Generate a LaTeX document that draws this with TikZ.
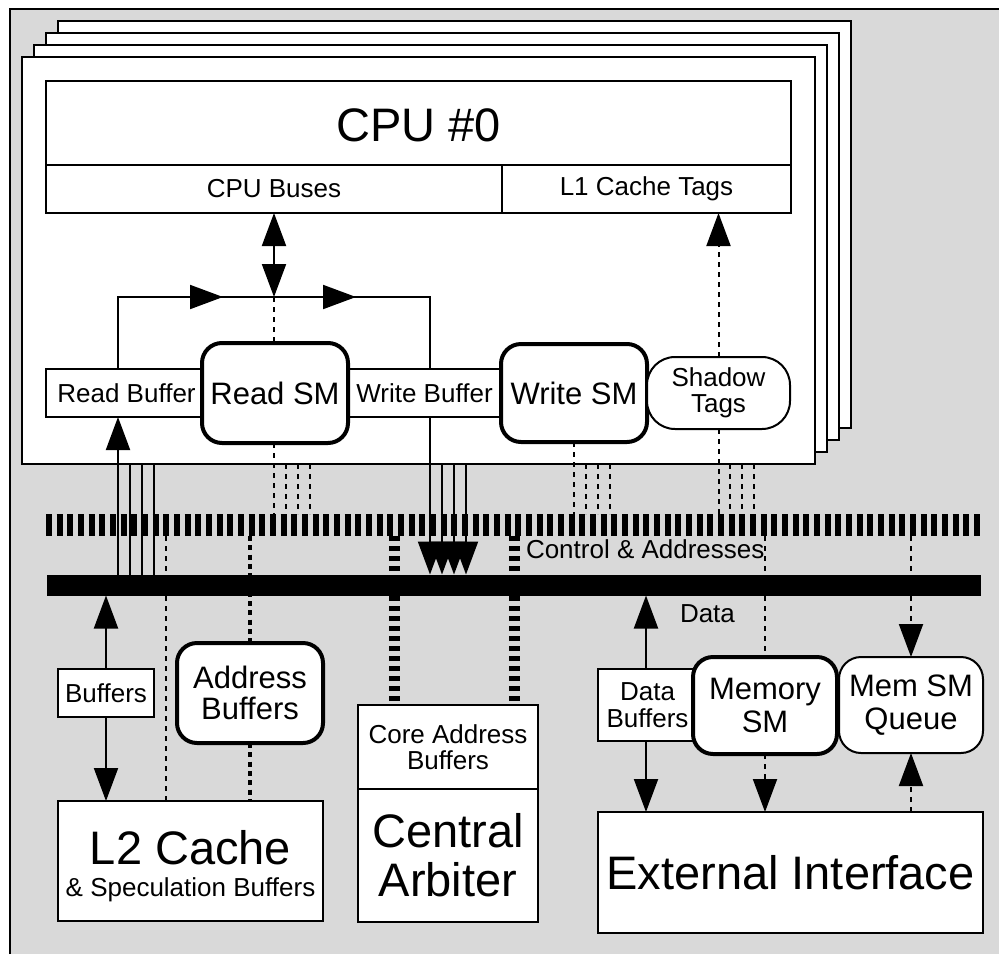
\documentclass[tikz,border=0pt]{standalone}
\usepackage{fontspec}
\setmainfont{Liberation Sans}
\usetikzlibrary{arrows.meta}
\tikzset{
  >={Triangle[length=33pt,width=24pt]},
  box/.style={draw, fill=white, line width=2pt, inner sep=0pt, outer sep=0pt, anchor=north west, align=center},
  frm/.style={box, minimum width=793pt, minimum height=407pt},
  smbox/.style={box, rounded corners=20pt, line width=4pt},
  pill/.style={box, rounded corners=28pt},
  fsmall/.style={font=\fontsize{26}{26.5}\selectfont},
  fmid/.style={font=\fontsize{31}{33}\selectfont},
  fmidb/.style={font=\fontsize{31}{31}\selectfont},
  fbig/.style={font=\fontsize{47}{49}\selectfont},
  lbl/.style={inner sep=0pt, outer sep=0pt},
  dsh/.style={dash pattern=on 5pt off 5pt},
  mdsh/.style={line width=4pt, dash pattern=on 5pt off 4.3pt},
  tdsh/.style={line width=11pt, dash pattern=on 5pt off 5pt},
}
\begin{document}
\begin{tikzpicture}[x=1pt,y=-1pt,line width=2pt]
\useasboundingbox (0,0) rectangle (999,954);
% background
\fill[black!15] (10,9) rectangle (999,954);
\draw (10,954) -- (10,9) -- (999,9);
% stacked CPU frames
\node[frm] (f3) at (58,21) {};
\node[frm] (f2) at (46,33) {};
\node[frm] (f1) at (34,45) {};
\node[frm] (f0) at (22,57) {};
% CPU
\node[box, fbig, minimum width=745pt, minimum height=84pt, text depth=0pt] (cpu) at (46,81) {\raisebox{-5pt}{CPU \#0}};
\node[box, fsmall, minimum width=456pt, minimum height=48pt] (buses) at (46,165) {CPU Buses};
\node[box, fsmall, minimum width=289pt, minimum height=48pt] (l1) at (502,165) {L1 Cache Tags};
% buffers and state machines
\node[box, fsmall, minimum width=161pt, minimum height=48pt] (rb) at (46,369) {Read Buffer};
\node[box, fsmall, minimum width=151pt, minimum height=48pt] (wb) at (349,369) {Write Buffer};
\node[smbox, fmid, minimum width=146pt, minimum height=100pt] (rsm) at (202,343) {\raisebox{-6pt}{Read SM}};
\node[smbox, fmid, minimum width=146pt, minimum height=98pt] (wsm) at (501,344) {\raisebox{-6pt}{Write SM}};
\node[pill, fsmall, minimum width=143pt, minimum height=72pt] (st) at (647,357) {Shadow\\Tags};
% buses
\node[lbl, minimum width=934pt, minimum height=22pt, anchor=north west] (cbus) at (46,514) {};
\draw[line width=22pt, dash pattern=on 6pt off 4.667pt] (cbus.west) -- (cbus.east);
\node[lbl, fill=black, minimum width=934pt, minimum height=21pt, anchor=north west] (dbus) at (47,574.5) {};
\node[lbl, fsmall, anchor=base west] (ctl) at (526,558) {Control \& Addresses};
\node[lbl, fsmall, anchor=base west] (dat) at (680,622) {Data};
% lower boxes
\node[box, fsmall, minimum width=96pt, minimum height=48pt] (buf) at (58,669) {Buffers};
\node[smbox, fmidb, minimum width=146pt, minimum height=100pt] (ab) at (177,643) {Address\\Buffers};
\node[box, minimum width=265pt, minimum height=120pt] (l2) at (58,801) {};
\node[lbl, fsmall, align=center] (l2t) at (190.5,866) {{\fontsize{47}{31}\selectfont L2 Cache}\\[5pt]\& Speculation Buffers};
\node[box, fsmall, minimum width=180pt, minimum height=84pt] (cab) at (358,705) {Core Address\\Buffers};
\node[box, fbig, minimum width=180pt, minimum height=133pt] (ca) at (358,789) {Central\\Arbiter};
\node[box, fsmall, minimum width=99pt, minimum height=72pt] (db) at (598,669) {Data\\Buffers};
\node[smbox, fmid, minimum width=144pt, minimum height=97pt] (msm) at (693,657) {Memory\\SM};
\node[pill, rounded corners=22pt, fmid, minimum width=144pt, minimum height=96pt] (msq) at (839,657) {Mem SM\\Queue};
\node[box, fbig, minimum width=385pt, minimum height=121pt] (ei) at (598,812) {External Interface};
% coordinates
\coordinate (j) at (274,297);
\coordinate (pL) at (118,297);
\coordinate (pR) at (430,297);
\coordinate (a1) at (223,297);
\coordinate (a2) at (356,297);
% CPU bus double arrow
\draw[<->] (buses.south) -- (j);
% read/write buffer loop
\draw (rb.north -| pL) -- (pL) -- (pR) -- (wb.north -| pR);
\draw[->] (pL) -- (a1);
\draw[->] (j) -- (a2);
\draw[dsh] (j) -- (j |- rsm.north);
\draw[dsh] (j |- rsm.south) -- (j |- cbus.north);
\foreach \x in {286,298,310} \draw[dsh] (\x,0 |- f0.south) -- (\x,0 |- cbus.north);
% write buffer to data bus
\draw[->] (pR |- wb.south) -- (pR |- dbus.north);
\foreach \x in {442,454,466} \draw[->] (\x,0 |- f0.south) -- (\x,0 |- dbus.north);
% data bus to read buffer
\draw[->] (pL |- dbus.north) -- (pL |- rb.south);
\foreach \x in {130,142,154} \draw (\x,0 |- dbus.north) -- (\x,0 |- f0.south);
% write SM
\draw[dsh] (wsm.south) -- (wsm.south |- cbus.north);
\foreach \x in {586,598,610} \draw[dsh] (\x,0 |- f0.south) -- (\x,0 |- cbus.north);
% shadow tags
\draw[dsh,->] (st.north) -- (st.north |- l1.south);
\draw[dsh] (st.south) -- (st.south |- cbus.north);
\foreach \x in {730,742,754} \draw[dsh] (\x,0 |- f0.south) -- (\x,0 |- cbus.north);
% lower connections
\draw[dsh] (166,0 |- cbus.south) -- (166,0 |- l2.north);
\draw[mdsh] (ab.north |- cbus.south) -- (ab.north);
\draw[mdsh] (ab.south) -- (ab.south |- l2.north);
\draw[tdsh] (394,0 |- cbus.south) -- (394,0 |- cab.north);
\draw[tdsh] (514,0 |- cbus.south) -- (514,0 |- cab.north);
\draw[->] (buf.north) -- (buf.north |- dbus.south);
\draw[->] (buf.south) -- (buf.south |- l2.north);
\draw[->] (646,0 |- db.north) -- (646,0 |- dbus.south);
\draw[->] (646,0 |- db.south) -- (646,0 |- ei.north);
\draw[dsh] (msm.north |- cbus.south) -- (msm.north);
\draw[dsh,->] (msm.south) -- (msm.south |- ei.north);
\draw[dsh,->] (msq.north |- cbus.south) -- (msq.north);
\draw[dsh,->] (msq.south |- ei.north) -- (msq.south);
\end{tikzpicture}
\end{document}
